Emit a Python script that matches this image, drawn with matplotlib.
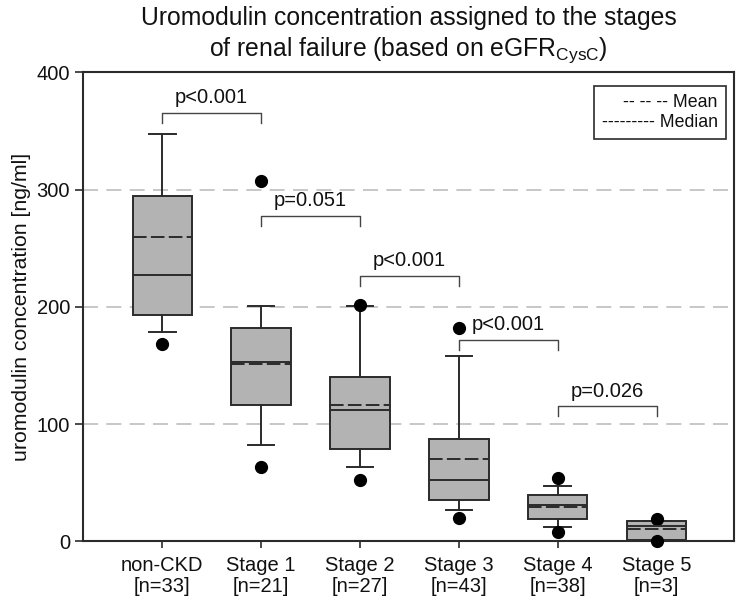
import matplotlib
matplotlib.use("Agg")
import matplotlib.pyplot as plt

plt.rcParams['font.family'] = ['Liberation Sans', 'DejaVu Sans']
plt.rcParams['mathtext.fontset'] = 'custom'
plt.rcParams['mathtext.rm'] = 'Liberation Sans'
plt.rcParams['mathtext.it'] = 'Liberation Sans'

# values (ng/ml)
groups = ["non-CKD", "Stage 1", "Stage 2", "Stage 3", "Stage 4", "Stage 5"]
n_counts = [33, 21, 27, 43, 38, 3]
q1 = [192.7, 116.3, 78.5, 35.5, 19.0, 0.6]
median = [227.5, 153.2, 112.3, 52.3, 30.6, 13.0]
q3 = [295.0, 182.2, 139.9, 87.0, 39.0, 17.6]
mean = [260.0, 151.0, 116.6, 70.5, 29.3, 10.5]
whisker_low = [178.8, 82.1, 63.4, 26.4, 12.5, 0.6]
whisker_high = [347.7, 200.6, 200.4, 158.0, 47.2, 17.6]
outliers = [[168.0], [307.0, 63.4], [201.6, 52.0], [182.0, 19.9], [53.5, 7.7], [19.0, 0.0]]

# significance brackets: (left group, right group, bracket height, label)
brackets = [
    (0, 1, 365.5, "p<0.001"),
    (1, 2, 277.5, "p=0.051"),
    (2, 3, 226.5, "p<0.001"),
    (3, 4, 172.0, "p<0.001"),
    (4, 5, 115.0, "p=0.026"),
]

dark = '#2b2b2b'

fig = plt.figure(figsize=(7.42, 6.04), dpi=100)
ax = fig.add_axes([0.112, 0.104, 0.877, 0.776])

stats = []
for i in range(len(groups)):
    stats.append(dict(med=median[i], q1=q1[i], q3=q3[i], mean=mean[i],
                      whislo=whisker_low[i], whishi=whisker_high[i],
                      fliers=outliers[i]))

ax.bxp(stats, positions=range(len(groups)), widths=0.6, patch_artist=True,
       showmeans=True, meanline=True, capwidths=0.27,
       boxprops=dict(facecolor='#b3b3b3', edgecolor=dark, linewidth=1.4),
       medianprops=dict(color=dark, linewidth=1.4),
       meanprops=dict(color=dark, linewidth=1.4, linestyle=(0, (7, 2.2))),
       whiskerprops=dict(color=dark, linewidth=1.4),
       capprops=dict(color=dark, linewidth=1.4),
       flierprops=dict(marker='o', markerfacecolor='black', markeredgecolor='black',
                       markersize=8.5, clip_on=False),
       zorder=3)

for a, b, h, label in brackets:
    ax.plot([a, a, b, b], [h - 8.5, h, h, h - 8.5], color='#444444', lw=1.0, zorder=4)
    ax.text((a + b) / 2, h + 5, label, ha='center', va='bottom', fontsize=14.5, color='#111111')

ax.set_xlim(-0.8, 5.78)
ax.set_ylim(0, 400)
ax.set_yticks([0, 100, 200, 300, 400])
ax.set_xticks(range(len(groups)))
ax.set_xticklabels([f"{g}\n[n={n}]" for g, n in zip(groups, n_counts)], fontsize=14.5,
                   color='#111111', linespacing=1.1)
ax.tick_params(axis='y', labelsize=14.5, labelcolor='#111111', length=6, width=1.2, color=dark)
ax.tick_params(axis='x', length=5, width=1.2, color=dark, pad=6)

for y in [100, 200, 300]:
    ax.axhline(y, color='#bdbdbd', lw=1.2, linestyle=(0, (9, 5)), zorder=1)

for s in ax.spines.values():
    s.set_color(dark)
    s.set_linewidth(1.5)

ax.set_ylabel("uromodulin concentration [ng/ml]", fontsize=15.3, color='#111111', labelpad=4)
ax.set_title("Uromodulin concentration assigned to the stages\n"
             "of renal failure (based on eGFR$_{\\mathrm{CysC}}$)",
             fontsize=17.8, color='#111111', pad=12, linespacing=1.25)

ax.text(0.975, 0.955, "-- -- -- Mean\n--------- Median", transform=ax.transAxes,
        ha='right', va='top', fontsize=12.8, linespacing=1.25, color='#111111',
        bbox=dict(boxstyle='square,pad=0.45', facecolor='white', edgecolor=dark, lw=1.2),
        zorder=5)

fig.savefig("out.png", dpi=100)
